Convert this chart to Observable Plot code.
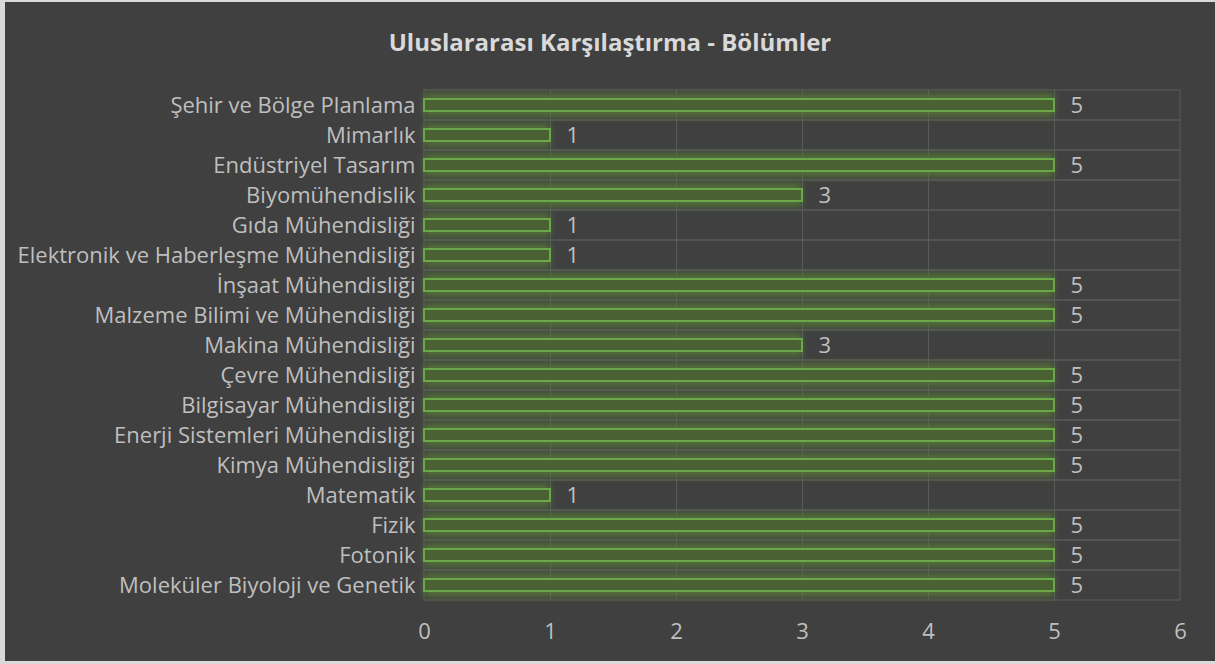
<!DOCTYPE html>
<html>
<head>
<meta charset="utf-8">
<script src="https://cdn.jsdelivr.net/npm/d3@7"></script>
<script src="https://cdn.jsdelivr.net/npm/@observablehq/plot@0.6"></script>
<style>
  html, body { margin: 0; padding: 0; background: #d9d9d9; }
  #frame { position: absolute; left: 5px; top: 2px; width: 1210px; height: 659px; background: #404040; overflow: hidden; }
  #title { height: 60px; line-height: 80px; text-align: center; color: #d9d9d9; font-family: "Open Sans", sans-serif; font-weight: bold; font-size: 24px; }
  #chart svg { display: block; }
</style>
</head>
<body>
<div id="frame">
  <div id="title">Uluslararası Karşılaştırma - Bölümler</div>
  <div id="chart"></div>
</div>
<script>
const categories = [
  "Şehir ve Bölge Planlama",
  "Mimarlık",
  "Endüstriyel Tasarım",
  "Biyomühendislik",
  "Gıda Mühendisliği",
  "Elektronik ve Haberleşme Mühendisliği",
  "İnşaat Mühendisliği",
  "Malzeme Bilimi ve Mühendisliği",
  "Makina Mühendisliği",
  "Çevre Mühendisliği",
  "Bilgisayar Mühendisliği",
  "Enerji Sistemleri Mühendisliği",
  "Kimya Mühendisliği",
  "Matematik",
  "Fizik",
  "Fotonik",
  "Moleküler Biyoloji ve Genetik"
];
const values = [5, 1, 5, 3, 1, 1, 5, 5, 3, 5, 5, 5, 5, 1, 5, 5, 5];
const xTicks = [0, 1, 2, 3, 4, 5, 6];

const data = categories.map((c, i) => ({category: c, value: values[i]}));

const font = "'Open Sans', sans-serif";
const chart = Plot.plot({
  width: 1210,
  height: 599,
  marginLeft: 419,
  marginRight: 35,
  marginTop: 28,
  marginBottom: 61,
  style: {background: "none", color: "#bfbfbf", fontFamily: font, fontSize: "22px"},
  x: {domain: [0, 6], ticks: xTicks, tickSize: 0, tickPadding: 23, label: null, tickFormat: d => String(d)},
  y: {domain: categories, padding: 0, tickSize: 0, tickPadding: 9, label: null},
  marks: [
    Plot.ruleX(xTicks.slice(1, -1), {stroke: "#5a5a5a", strokeWidth: 1}),
    Plot.barX(categories, {y: d => d, x1: 0, x2: 6, fill: "none", stroke: "#5a5a5a", strokeWidth: 1}),
    Plot.barX(data, {y: "category", x: "value", fill: "#55783a", fillOpacity: 0.8, insetTop: 3, insetBottom: 3, className: "glow"}),
    Plot.barX(data, {y: "category", x: "value", fill: "#4a6233", stroke: "#6aa84a", strokeWidth: 2, insetTop: 9, insetBottom: 9}),
    Plot.text(data, {y: "category", x: "value", text: d => String(d.value), textAnchor: "start", dx: 16, fill: "#bfbfbf", fontSize: 22})
  ]
});

const svg = d3.select(chart);
const defs = svg.insert("defs", ":first-child");
const f = defs.append("filter").attr("id", "glowf").attr("x", "-5%").attr("y", "-100%").attr("width", "110%").attr("height", "300%");
f.append("feGaussianBlur").attr("stdDeviation", 3);
svg.selectAll(".glow rect").attr("filter", "url(#glowf)");
document.getElementById("chart").appendChild(chart);
</script>
</body>
</html>
